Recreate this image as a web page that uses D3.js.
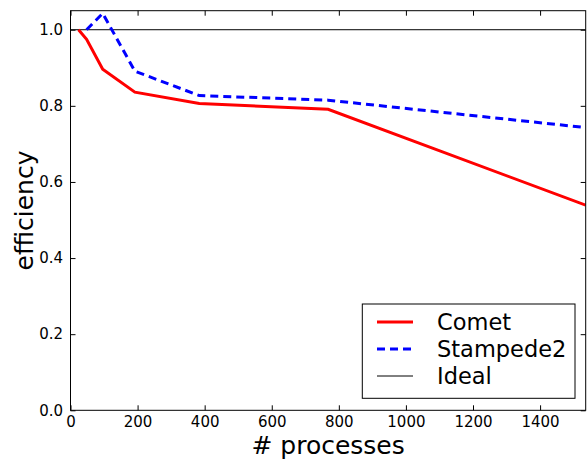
<!DOCTYPE html>
<html>
<head>
<meta charset="utf-8">
<script src="https://cdn.jsdelivr.net/npm/d3@7"></script>
<style>
  body { margin: 0; background: #fff; }
  svg { font-family: "DejaVu Sans", sans-serif; }
  .axis path { display: none; }
  .axis line { stroke: #000; stroke-width: 1; }
  .axis text { font-family: "DejaVu Sans", sans-serif; font-size: 15px; fill: #000; }
</style>
</head>
<body>
<script>
// processes on each machine
const cometProcs = [24, 48, 96, 192, 384, 768, 1536]
const cometEff = [1.0, 0.975, 0.896, 0.836, 0.806, 0.791, 0.539]
const stampedeProcs = [48, 96, 192, 384, 768, 1536]
const stampedeEff = [1.0, 1.043, 0.891, 0.827, 0.815, 0.743]
const idealEff = 1.0

const xTicks = [0, 200, 400, 600, 800, 1000, 1200, 1400]
const yTicks = [0, 0.2, 0.4, 0.6, 0.8, 1.0]

const legendItems = [
  { name: 'Comet', color: '#ff0000', width: 3, dash: null },
  { name: 'Stampede2', color: '#0000ff', width: 3, dash: '8,5' },
  { name: 'Ideal', color: '#000', width: 1, dash: null }
]

const fullWidth = 588
const fullHeight = 459
const margin = { top: 10.7, right: 2.3, bottom: 48.7, left: 70.5 }
const width = fullWidth - margin.left - margin.right
const height = fullHeight - margin.top - margin.bottom

const svg = d3.select('body')
  .append('svg')
  .attr('width', fullWidth)
  .attr('height', fullHeight)

const g = svg.append('g')
  .attr('transform', `translate(${margin.left},${margin.top})`)

const x = d3.scaleLinear().domain([0, 1536]).range([0, width])
const y = d3.scaleLinear().domain([0, 1.05]).range([height, 0])

// ---------------Axes (ticks inside, like matplotlib classic)---------------

g.append('g')
  .attr('class', 'axis')
  .attr('transform', `translate(0,${height})`)
  .call(d3.axisBottom(x).tickValues(xTicks).tickSize(-5).tickPadding(6).tickFormat(d3.format('d')))

g.append('g')
  .attr('class', 'axis')
  .call(d3.axisTop(x).tickValues(xTicks).tickSize(-5).tickFormat(''))

g.append('g')
  .attr('class', 'axis')
  .call(d3.axisLeft(y).tickValues(yTicks).tickSize(-5).tickPadding(7.5).tickFormat(d3.format('.1f')))

g.append('g')
  .attr('class', 'axis')
  .attr('transform', `translate(${width},0)`)
  .call(d3.axisRight(y).tickValues(yTicks).tickSize(-5).tickFormat(''))

// ---------------Lines---------------

svg.append('clipPath').attr('id', 'plot-clip')
  .append('rect').attr('width', width).attr('height', height)

const plot = g.append('g').attr('clip-path', 'url(#plot-clip)')

const line = d3.line()
  .x(d => x(d[0]))
  .y(d => y(d[1]))

plot.append('path')
  .datum([[0, idealEff], [1536, idealEff]])
  .attr('fill', 'none')
  .attr('stroke', '#000')
  .attr('stroke-width', 1)
  .attr('d', line)

plot.append('path')
  .datum(cometProcs.map((p, i) => [p, cometEff[i]]))
  .attr('fill', 'none')
  .attr('stroke', '#ff0000')
  .attr('stroke-width', 3)
  .attr('d', line)

plot.append('path')
  .datum(stampedeProcs.map((p, i) => [p, stampedeEff[i]]))
  .attr('fill', 'none')
  .attr('stroke', '#0000ff')
  .attr('stroke-width', 3)
  .attr('stroke-dasharray', '8,5')
  .attr('d', line)

// frame
g.append('rect')
  .attr('width', width)
  .attr('height', height)
  .attr('fill', 'none')
  .attr('stroke', '#000')
  .attr('stroke-width', 1)

// ---------------Axis labels---------------

svg.append('text')
  .attr('x', margin.left + width / 2)
  .attr('y', 454)
  .attr('text-anchor', 'middle')
  .attr('font-size', 25)
  .text('# processes')

svg.append('text')
  .attr('transform', `translate(33,${margin.top + height / 2}) rotate(-90)`)
  .attr('text-anchor', 'middle')
  .attr('font-size', 25)
  .text('efficiency')

// ---------------Legend---------------

const legend = svg.append('g')
legend.append('rect')
  .attr('x', 362.3).attr('y', 304)
  .attr('width', 212.7).attr('height', 94.3)
  .attr('fill', '#fff')
  .attr('stroke', '#000')
  .attr('stroke-width', 1)

const rows = legend.selectAll('.entry')
  .data(legendItems)
  .enter().append('g')
  .attr('class', 'entry')
  .attr('transform', (d, i) => `translate(0,${322 + i * 27})`)

rows.append('line')
  .attr('x1', 377).attr('x2', 413)
  .attr('stroke', d => d.color)
  .attr('stroke-width', d => d.width)
  .attr('stroke-dasharray', d => d.dash)

rows.append('text')
  .attr('x', 437)
  .attr('y', 8)
  .attr('font-size', 22.5)
  .text(d => d.name)
</script>
</body>
</html>
